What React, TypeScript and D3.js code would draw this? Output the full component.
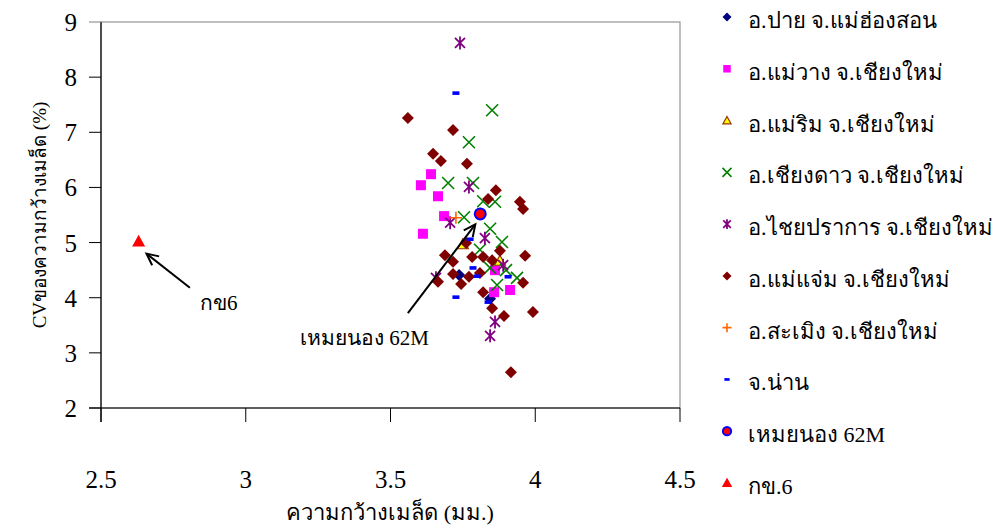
import * as d3 from 'd3';

// --- chart data ---
const xTicks = [2.5, 3, 3.5, 4, 4.5];
const yTicks = [2, 3, 4, 5, 6, 7, 8, 9];

const pai: [number, number][] = [[3.737, 4.41], [3.844, 3.98]];
const maeWang: [number, number][] = [
  [3.64, 6.24], [3.605, 6.04], [3.664, 5.84], [3.685, 5.48], [3.612, 5.16],
  [3.861, 4.5], [3.858, 4.1], [3.913, 4.14],
];
const maeRim: [number, number][] = [[3.75, 4.97], [3.878, 4.67]];
const chiangDao: [number, number][] = [
  [3.851, 7.4], [3.771, 6.82], [3.699, 6.08], [3.785, 6.08], [3.82, 5.75],
  [3.861, 5.74], [3.754, 5.46], [3.844, 5.25], [3.885, 5.01], [3.809, 4.87],
  [3.844, 4.54], [3.899, 4.5], [3.937, 4.36], [3.868, 4.23],
];
const chaiPrakan: [number, number][] = [
  [3.74, 8.62], [3.771, 6.01], [3.706, 5.36], [3.826, 5.08], [3.889, 4.59],
  [3.657, 4.36], [3.861, 3.56], [3.844, 3.31],
];
const maeChaem: [number, number][] = [
  [3.56, 7.26], [3.716, 7.04], [3.647, 6.61], [3.674, 6.48], [3.764, 6.43],
  [3.864, 5.95], [3.837, 5.79], [3.947, 5.74], [3.958, 5.61], [3.761, 4.99],
  [3.688, 4.77], [3.716, 4.65], [3.782, 4.74], [3.82, 4.74], [3.878, 4.85],
  [3.965, 4.76], [3.716, 4.43], [3.771, 4.38], [3.809, 4.45], [3.744, 4.25],
  [3.664, 4.29], [3.82, 4.1], [3.958, 4.27], [3.851, 3.81], [3.892, 3.67],
  [3.992, 3.74], [3.916, 2.65], [3.851, 4.68],
];
const samoeng: [number, number][] = [[3.726, 5.45]];
const nan: [number, number][] = [
  [3.726, 7.71], [3.775, 5.06], [3.785, 4.54], [3.799, 4.39], [3.726, 4.01],
  [3.906, 4.38], [3.837, 3.92],
];
const meuiNong: [number, number][] = [[3.81, 5.52]];
const rd6: [number, number][] = [[2.63, 5.02]];

const seriesNames = [
  'อ.ปาย จ.แม่ฮ่องสอน',
  'อ.แม่วาง จ.เชียงใหม่',
  'อ.แม่ริม จ.เชียงใหม่',
  'อ.เชียงดาว จ.เชียงใหม่',
  'อ.ไชยปราการ จ.เชียงใหม่',
  'อ.แม่แจ่ม จ.เชียงใหม่',
  'อ.สะเมิง จ.เชียงใหม่',
  'จ.น่าน',
  'เหมยนอง 62M',
  'กข.6',
];

type Shape = 'diamond' | 'square' | 'triangle' | 'x' | 'star' | 'plus' | 'dash' | 'circle';

const series: { name: string; pts: [number, number][]; shape: Shape; fill: string; stroke: string }[] = [
  { name: seriesNames[0], pts: pai, shape: 'diamond', fill: '#000080', stroke: '#000080' },
  { name: seriesNames[1], pts: maeWang, shape: 'square', fill: '#ff00ff', stroke: '#ff00ff' },
  { name: seriesNames[2], pts: maeRim, shape: 'triangle', fill: '#ffff00', stroke: '#993300' },
  { name: seriesNames[3], pts: chiangDao, shape: 'x', fill: 'none', stroke: '#008000' },
  { name: seriesNames[4], pts: chaiPrakan, shape: 'star', fill: 'none', stroke: '#800080' },
  { name: seriesNames[5], pts: maeChaem, shape: 'diamond', fill: '#800000', stroke: '#800000' },
  { name: seriesNames[6], pts: samoeng, shape: 'plus', fill: 'none', stroke: '#ff6600' },
  { name: seriesNames[7], pts: nan, shape: 'dash', fill: '#0000ff', stroke: 'none' },
  { name: seriesNames[8], pts: meuiNong, shape: 'circle', fill: '#ff0000', stroke: '#0000ff' },
  { name: seriesNames[9], pts: rd6, shape: 'triangle', fill: '#ff0000', stroke: '#ff0000' },
];

// annotations: label position and arrow (from -> to) in data units
const notes = [
  { text: 'กข6', at: [2.842, 3.78], from: [2.807, 4.18], to: [2.657, 4.8] },
  { text: 'เหมยนอง 62M', at: [3.187, 3.14], from: [3.56, 3.72], to: [3.793, 5.33] },
];

const FONT = "'Liberation Serif', 'Times New Roman', serif";

// draws one marker centred at 0,0; k scales it (legend markers are smaller)
const Marker = ({ shape, fill, stroke, k = 1 }: { shape: Shape; fill: string; stroke: string; k?: number }) => {
  const s = 6 * k;
  switch (shape) {
    case 'diamond':
      return <path d={`M0,${-s}L${s},0L0,${s}L${-s},0Z`} fill={fill} />;
    case 'square':
      return <rect x={-5 * k} y={-5 * k} width={10 * k} height={10 * k} fill={fill} />;
    case 'triangle':
      return <path d={`M0,${-5.5 * k}L${5.5 * k},${4.5 * k}L${-5.5 * k},${4.5 * k}Z`} fill={fill} stroke={stroke} strokeWidth={1.2} />;
    case 'x':
      return <path d={`M${-s},${-s}L${s},${s}M${-s},${s}L${s},${-s}`} stroke={stroke} strokeWidth={1.6} />;
    case 'star':
      return <path d={`M${-5 * k},${-5 * k}L${5 * k},${5 * k}M${-5 * k},${5 * k}L${5 * k},${-5 * k}M0,${-6.5 * k}L0,${6.5 * k}`} stroke={stroke} strokeWidth={1.8} />;
    case 'plus':
      return <path d={`M${-s},0L${s},0M0,${-s}L0,${s}`} stroke={stroke} strokeWidth={1.6} />;
    case 'dash':
      return <rect x={-3.5 * k} y={-1.8 * k} width={7 * k} height={3.6 * k} fill={fill} />;
    case 'circle':
      return <circle r={5.5 * k} fill={fill} stroke={stroke} strokeWidth={2} />;
  }
};

const Arrow = ({ x1, y1, x2, y2 }: { x1: number; y1: number; x2: number; y2: number }) => {
  const a = Math.atan2(y2 - y1, x2 - x1);
  const L = 13, spread = 0.45;
  const h1 = [x2 - L * Math.cos(a - spread), y2 - L * Math.sin(a - spread)];
  const h2 = [x2 - L * Math.cos(a + spread), y2 - L * Math.sin(a + spread)];
  return (
    <g stroke="#000" strokeWidth={2} fill="none">
      <line x1={x1} y1={y1} x2={x2} y2={y2} />
      <path d={`M${h1[0]},${h1[1]}L${x2},${y2}L${h2[0]},${h2[1]}`} />
    </g>
  );
};

function App() {
  const width = 1002;
  const height = 527;
  const left = 101, right = 680, top = 22, bottom = 408;

  const x = d3.scaleLinear().domain([2.5, 4.5]).range([left, right]);
  const y = d3.scaleLinear().domain([2, 9]).range([bottom, top]);

  const legendX = 727;
  const legendY = d3.scaleLinear().domain([0, seriesNames.length - 1]).range([17, 483]);

  return (
    <svg width={width} height={height} style={{ position: 'absolute', left: 0, top: 0, background: '#fff' }} fontFamily={FONT}>
      {/* plot frame */}
      <rect x={left} y={top} width={right - left} height={bottom - top} fill="none" stroke="#808080" strokeWidth={1} />
      <line x1={left} y1={top} x2={left} y2={bottom + 14} stroke="#000" strokeWidth={1.2} />
      <line x1={left - 12} y1={bottom} x2={right} y2={bottom} stroke="#000" strokeWidth={1.2} />

      {/* y axis */}
      {yTicks.map(t => (
        <g key={'y' + t}>
          <line x1={left - 12} x2={left} y1={y(t)} y2={y(t)} stroke={t === 9 ? '#808080' : '#000'} strokeWidth={1} />
          <text x={77} y={y(t) + 9} textAnchor="end" fontSize={25} fill="#000">{t}</text>
        </g>
      ))}

      {/* x axis */}
      {xTicks.map(t => (
        <g key={'x' + t}>
          <line x1={x(t)} x2={x(t)} y1={bottom} y2={bottom + 14} stroke="#000" strokeWidth={1} />
          <text x={x(t)} y={488} textAnchor="middle" fontSize={25} fill="#000">{t}</text>
        </g>
      ))}

      <text x={390} y={520} textAnchor="middle" fontSize={22} fill="#000">ความกว้างเมล็ด (มม.)</text>
      <text transform="translate(46,215) rotate(-90)" textAnchor="middle" fontSize={19} fill="#000">CVของความกว้างเมล็ด (%)</text>

      {/* points */}
      {series.map((s, i) => (
        <g key={'s' + i}>
          {s.pts.map((p, j) => (
            <g key={j} transform={`translate(${x(p[0])},${y(p[1])})`}>
              <Marker shape={s.shape} fill={s.fill} stroke={s.stroke} />
            </g>
          ))}
        </g>
      ))}

      {/* annotations */}
      {notes.map((n, i) => (
        <g key={'n' + i}>
          <Arrow x1={x(n.from[0])} y1={y(n.from[1])} x2={x(n.to[0])} y2={y(n.to[1])} />
          <text x={x(n.at[0])} y={y(n.at[1])} fontSize={21} fill="#000">{n.text}</text>
        </g>
      ))}

      {/* legend */}
      {series.map((s, i) => (
        <g key={'l' + i} transform={`translate(0,${legendY(i)})`}>
          <g transform={`translate(${legendX},0)`}>
            <Marker shape={s.shape} fill={s.fill} stroke={s.stroke} k={0.75} />
          </g>
          <text x={748} y={11} fontSize={22} fill="#000">{s.name}</text>
        </g>
      ))}
    </svg>
  );
}

export default App;
